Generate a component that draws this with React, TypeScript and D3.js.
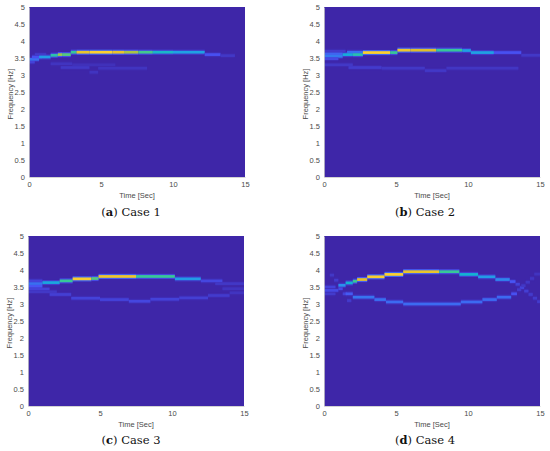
import React, { useEffect, useRef } from "react";
import * as d3 from "d3";

// ridge cells: [tStart, tEnd, freq (bin centre), magnitude 0..1]
type Cell = [number, number, number, number];

const timeTicks = [0, 5, 10, 15];
const freqTicks = [0, 0.5, 1, 1.5, 2, 2.5, 3, 3.5, 4, 4.5, 5];
const caseLetters = ["a", "b", "c", "d"];
const caseNames = ["Case 1", "Case 2", "Case 3", "Case 4"];

const case1: Cell[] = [
  [0, 0.4, 3.38, 0.08],
  [0, 0.7, 3.46, 0.18],
  [0.2, 0.9, 3.53, 0.12],
  [0.4, 1.2, 3.6, 0.06],
  [0.7, 1.5, 3.53, 0.28],
  [1.5, 2.0, 3.58, 0.46],
  [2.0, 2.3, 3.6, 0.66],
  [2.3, 2.9, 3.6, 0.55],
  [2.9, 3.3, 3.67, 0.5],
  [3.3, 4.2, 3.67, 0.8],
  [4.2, 5.8, 3.67, 0.88],
  [5.8, 6.6, 3.67, 0.8],
  [6.6, 7.6, 3.67, 0.68],
  [7.6, 8.6, 3.67, 0.52],
  [8.6, 10, 3.67, 0.4],
  [10, 12.2, 3.67, 0.3],
  [12.2, 13.3, 3.6, 0.12],
  [13.3, 14.3, 3.57, 0.05],
  [1.5, 3, 3.33, 0.04],
  [3, 6, 3.3, 0.03],
  [2.2, 4.2, 3.22, 0.05],
  [4.2, 4.8, 3.08, 0.04],
  [4.8, 8.2, 3.2, 0.04]
];

const case2: Cell[] = [
  [0, 1.5, 3.7, 0.06],
  [0, 1.3, 3.62, 0.16],
  [0, 1.3, 3.55, 0.2],
  [0, 1.0, 3.48, 0.1],
  [1.6, 2.7, 3.67, 0.18],
  [1.3, 2.0, 3.6, 0.35],
  [2.0, 2.7, 3.6, 0.45],
  [2.7, 4.6, 3.66, 0.88],
  [4.6, 5.1, 3.66, 0.5],
  [5.1, 6.0, 3.73, 0.82],
  [6.0, 7.8, 3.73, 0.76],
  [7.8, 9.6, 3.73, 0.5],
  [9.6, 10.2, 3.72, 0.3],
  [10.2, 11.8, 3.66, 0.3],
  [11.8, 13.7, 3.66, 0.12],
  [13.7, 15, 3.58, 0.05],
  [0, 2, 3.3, 0.05],
  [1.7, 4, 3.22, 0.06],
  [4, 7, 3.2, 0.05],
  [7, 8.5, 3.13, 0.05],
  [8.5, 13.5, 3.2, 0.045]
];

const case3: Cell[] = [
  [0, 1.0, 3.68, 0.08],
  [0, 1.0, 3.6, 0.18],
  [0, 1.0, 3.52, 0.13],
  [0, 1.5, 3.44, 0.08],
  [0, 2, 3.36, 0.05],
  [1.0, 2.2, 3.63, 0.33],
  [2.2, 3.1, 3.68, 0.5],
  [3.1, 4.4, 3.74, 0.86],
  [4.4, 4.9, 3.75, 0.55],
  [4.9, 7.5, 3.81, 0.82],
  [7.5, 10.2, 3.81, 0.5],
  [10.2, 12, 3.74, 0.28],
  [12, 13.5, 3.68, 0.09],
  [13, 15, 3.6, 0.05],
  [13.5, 15, 3.45, 0.04],
  [1.5, 3, 3.28, 0.07],
  [3, 5, 3.17, 0.08],
  [5, 7, 3.13, 0.08],
  [7, 8.5, 3.08, 0.09],
  [8.5, 10.5, 3.14, 0.08],
  [10.5, 12.5, 3.18, 0.07],
  [12.5, 14, 3.25, 0.06],
  [14, 15, 3.33, 0.04]
];

const case4: Cell[] = [
  // left blob and crossing
  [0, 1.0, 3.4, 0.1],
  [0, 0.8, 3.5, 0.08],
  [0, 0.8, 3.3, 0.06],
  [0.4, 0.7, 3.85, 0.05],
  [0.7, 1.0, 3.7, 0.06],
  [1.0, 1.3, 3.45, 0.1],
  [1.3, 1.6, 3.3, 0.08],
  [1.6, 1.9, 3.1, 0.06],
  // upper ridge
  [1.0, 1.5, 3.55, 0.24],
  [1.5, 2.0, 3.62, 0.38],
  [2.0, 2.3, 3.67, 0.5],
  [2.3, 3.0, 3.72, 0.78],
  [3.0, 4.2, 3.8, 0.86],
  [4.2, 5.5, 3.87, 0.88],
  [5.5, 8.0, 3.95, 0.8],
  [8.0, 9.4, 3.95, 0.5],
  [9.4, 10.7, 3.87, 0.38],
  [10.7, 11.9, 3.8, 0.28],
  [11.9, 12.9, 3.72, 0.22],
  [12.9, 13.3, 3.66, 0.13],
  // lower ridge
  [1.5, 2.0, 3.3, 0.14],
  [2.0, 3.5, 3.2, 0.19],
  [3.5, 4.3, 3.13, 0.18],
  [4.3, 5.5, 3.06, 0.17],
  [5.5, 9.5, 3.0, 0.17],
  [9.5, 11, 3.06, 0.17],
  [11, 12, 3.13, 0.17],
  [12, 13, 3.2, 0.17],
  [13, 13.4, 3.3, 0.12],
  // right crossing
  [13.3, 13.6, 3.58, 0.08],
  [13.6, 13.9, 3.48, 0.08],
  [13.9, 14.2, 3.38, 0.07],
  [14.2, 14.5, 3.28, 0.06],
  [14.5, 14.8, 3.17, 0.06],
  [14.8, 15, 3.07, 0.06],
  [13.4, 13.7, 3.42, 0.06],
  [13.7, 14.0, 3.54, 0.05],
  [14.0, 14.3, 3.64, 0.05],
  [14.3, 14.6, 3.75, 0.045],
  [14.6, 15, 3.88, 0.04]
];

const cases = [case1, case2, case3, case4];

// MATLAB parula-like stops
const parula = ["#3e26a8", "#4852f4", "#2796eb", "#12b1d6", "#37c897", "#81cc59", "#dcbd29", "#fccf30", "#f9fb14"];

const panels = [
  { x: 29, y: 7, cx: 131, cy: 216 },
  { x: 324, y: 7, cx: 425, cy: 216 },
  { x: 28, y: 236, cx: 131, cy: 444 },
  { x: 324, y: 236, cx: 425, cy: 444 }
];
const plotW = 216;
const plotH = 170;

export default function App() {
  const svgRef = useRef<SVGSVGElement | null>(null);

  useEffect(() => {
    document.body.style.margin = "0";
    const svg = d3.select(svgRef.current);
    svg.selectAll("*").remove();

    const color = d3.scaleSequential(d3.piecewise(d3.interpolateRgb, parula)).domain([0, 1]);
    const x = d3.scaleLinear().domain([0, 15]).range([0, plotW]);
    const y = d3.scaleLinear().domain([0, 5]).range([plotH, 0]);
    const bin = 0.08;

    panels.forEach((p, i) => {
      const g = svg.append("g").attr("transform", `translate(${p.x},${p.y})`);

      g.append("clipPath").attr("id", `clip${i}`)
        .append("rect").attr("width", plotW).attr("height", plotH);

      const plot = g.append("g").attr("clip-path", `url(#clip${i})`);
      plot.append("rect").attr("width", plotW).attr("height", plotH).attr("fill", color(0));

      const cells = cases[i];
      // soft spread around each ridge cell
      plot.selectAll("rect.halo")
        .data(cells)
        .enter()
        .append("rect")
        .attr("class", "halo")
        .attr("x", (d) => x(d[0]))
        .attr("width", (d) => x(d[1]) - x(d[0]))
        .attr("y", (d) => y(d[2] + bin * 0.95))
        .attr("height", (d) => y(0) - y(bin * 1.9))
        .attr("fill", (d) => color(d[3] * 0.18));

      plot.selectAll("rect.cell")
        .data(cells)
        .enter()
        .append("rect")
        .attr("class", "cell")
        .attr("x", (d) => x(d[0]))
        .attr("width", (d) => x(d[1]) - x(d[0]))
        .attr("y", (d) => y(d[2] + bin / 2))
        .attr("height", (d) => y(0) - y(bin))
        .attr("fill", (d) => color(d[3]));

      const xAxis = g.append("g")
        .attr("transform", `translate(0,${plotH})`)
        .call(d3.axisBottom(x).tickValues(timeTicks).tickSize(0).tickPadding(5).tickFormat(d3.format("~g")));
      const yAxis = g.append("g")
        .call(d3.axisLeft(y).tickValues(freqTicks).tickSize(0).tickPadding(4).tickFormat(d3.format("~g")));

      [xAxis, yAxis].forEach((a) => {
        a.select(".domain").attr("stroke", "#c8c8c8").attr("stroke-width", 0.8);
        a.selectAll("text")
          .attr("fill", "#4a4a4a")
          .style("font-family", "'Liberation Sans', Arial, sans-serif")
          .style("font-size", "7.5px");
      });

      g.append("text")
        .attr("x", plotW / 2)
        .attr("y", plotH + 21)
        .attr("text-anchor", "middle")
        .attr("fill", "#4a4a4a")
        .style("font-family", "'Liberation Sans', Arial, sans-serif")
        .style("font-size", "7.5px")
        .text("Time [Sec]");

      g.append("text")
        .attr("transform", `translate(-16,${plotH / 2 + 2}) rotate(-90)`)
        .attr("text-anchor", "middle")
        .attr("fill", "#4a4a4a")
        .style("font-family", "'Liberation Sans', Arial, sans-serif")
        .style("font-size", "7.5px")
        .text("Frequency [Hz]");

      const cap = svg.append("text")
        .attr("x", p.cx)
        .attr("y", p.cy)
        .attr("text-anchor", "middle")
        .attr("fill", "#111")
        .style("font-family", "'DejaVu Serif', 'Liberation Serif', serif")
        .style("font-size", "11.5px");
      cap.append("tspan").text("(");
      cap.append("tspan").attr("font-weight", "bold").text(caseLetters[i]);
      cap.append("tspan").text(") " + caseNames[i]);
    });
  }, []);

  return <svg ref={svgRef} width={550} height={451} style={{ display: "block", background: "#fff" }}></svg>;
}
